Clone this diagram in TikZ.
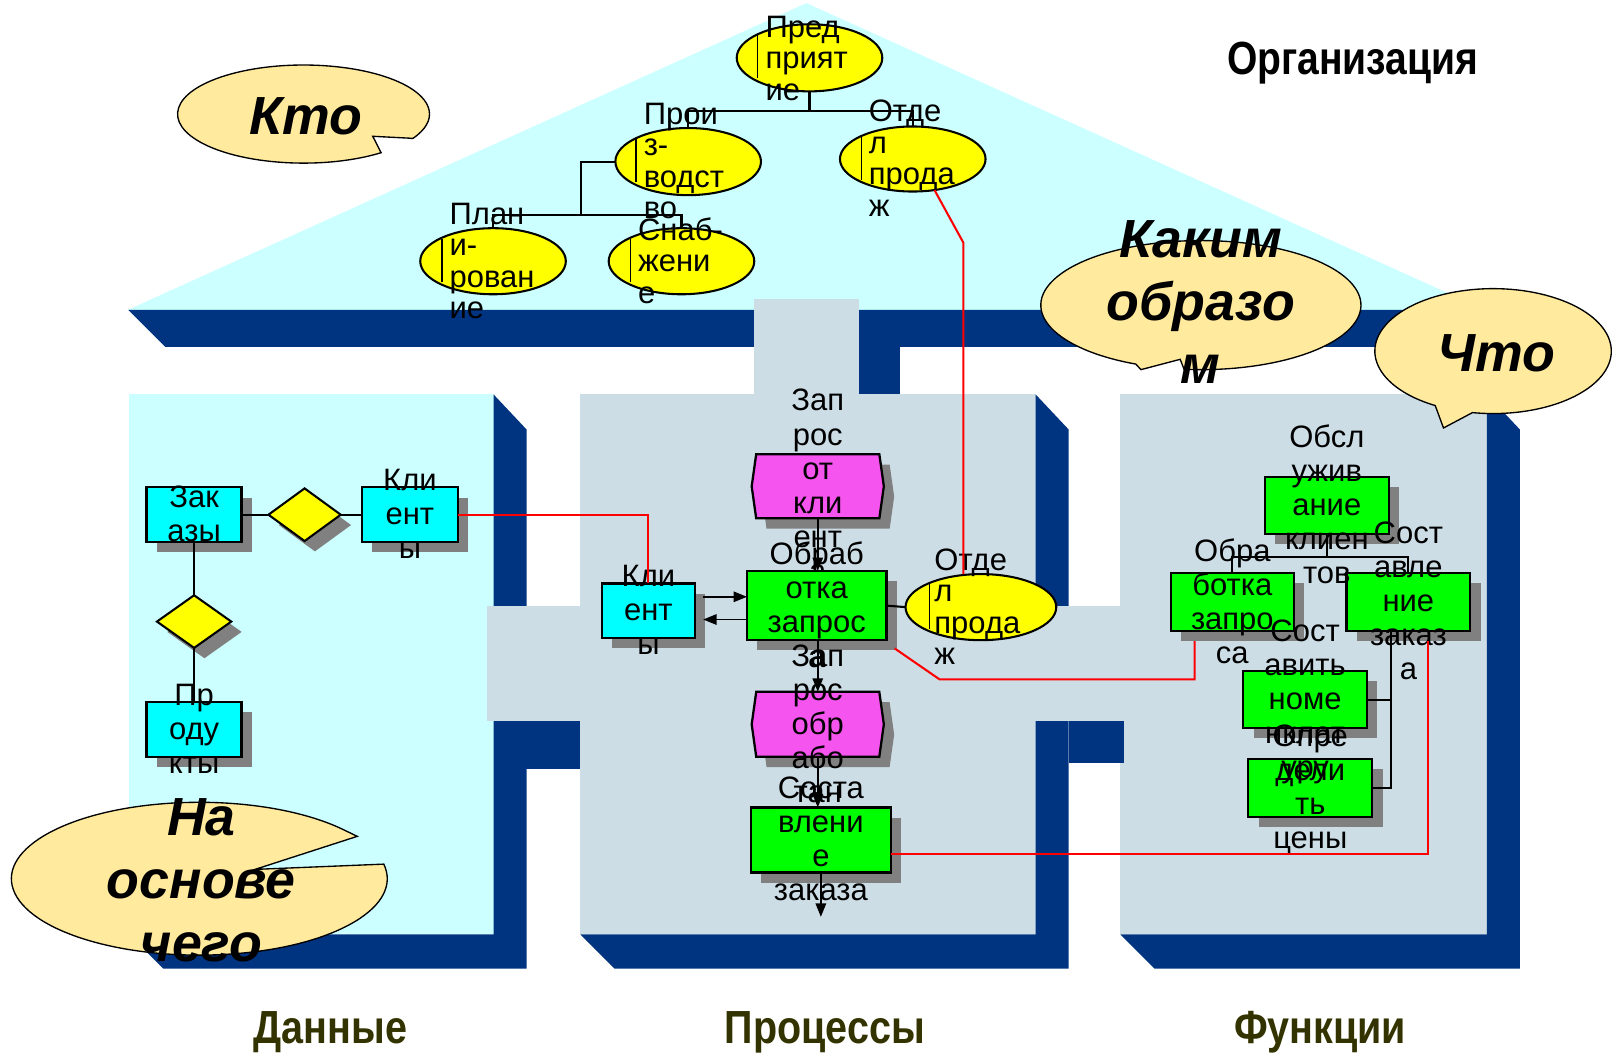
\documentclass[tikz,border=0pt]{standalone}
\usepackage{fontspec}
\usepackage{graphicx}
\setmainfont{Liberation Sans}
\usetikzlibrary{arrows.meta,shapes.geometric,shapes.symbols,shadows}

\definecolor{roofcyan}{HTML}{CCFFFF}
\definecolor{wallgray}{HTML}{CCDDE6}
\definecolor{housenavy}{HTML}{003380}
\definecolor{bubblefill}{HTML}{FFEA9E}
\definecolor{entcyan}{HTML}{00FFFF}
\definecolor{fungreen}{HTML}{00FF00}
\definecolor{evtmagenta}{HTML}{F555EE}
\definecolor{shadegray}{HTML}{808080}
\definecolor{olivetext}{HTML}{333300}
\definecolor{orgyellow}{HTML}{FFFF00}

\begin{document}
\begin{tikzpicture}[x=1pt,y=-1pt,
  every node/.style={inner sep=0pt, outer sep=0pt},
  boxshadow/.style={general shadow={fill=shadegray, shadow xshift=10pt, shadow yshift=-10pt}},
  entbox/.style={rectangle, draw, line width=2.2pt, fill=entcyan, boxshadow, minimum width=92, minimum height=53},
  relbox/.style={diamond, draw, line width=2pt, fill=orgyellow, boxshadow, minimum width=70, minimum height=51},
  funbox/.style={rectangle, draw, line width=2.2pt, fill=fungreen, boxshadow},
  evtbox/.style={signal, signal to=west and east, signal pointer angle=164, draw, line width=2.2pt,
                 fill=evtmagenta, boxshadow, minimum width=128, minimum height=62},
  orgell/.style={ellipse, draw, line width=2pt, fill=orgyellow, minimum width=141, minimum height=65},
  lbl/.style={align=center, yshift=-4pt, font=\fontsize{30}{33}\selectfont,
              execute at begin node=\strut, execute at end node=\strut},
  orglbl/.style={align=left, anchor=west, yshift=-4pt, font=\fontsize{30}{30.5}\selectfont,
                 execute at begin node=\strut, execute at end node=\strut},
  cursor/.style={line width=1.3pt},
  conn/.style={line width=2pt},
  arr/.style={line width=1.8pt, -{Triangle[length=13pt,width=10pt]}},
  redline/.style={draw=red, line width=2pt},
  bubble/.style={fill=bubblefill, draw=black, line width=1.3pt},
  bubtxt/.style={align=center, yshift=-3pt, font=\fontsize{52}{61}\selectfont\bfseries\itshape,
                 execute at begin node=\strut, execute at end node=\strut},
  bubword/.style={anchor=base, font=\fontsize{52}{61}\selectfont\bfseries\itshape},
  headline/.style={anchor=base, font=\fontsize{45}{50}\selectfont\bfseries},
  section/.style={headline, text=olivetext}
]
\useasboundingbox (0,0) rectangle (1568,1022);
\fill[white] (0,0) rectangle (1568,1022);

% ---------- roof ----------
\fill[roofcyan] (124,300) -- (781,3) -- (1438,300) -- cycle;
\fill[housenavy] (124,300) -- (1438,300) -- (1438,336) -- (160,336) -- cycle;
% passage from the roof down to the process wall
\fill[wallgray] (730,290) rectangle (832,382);
\fill[housenavy] (832,336) rectangle (872,382);

% ---------- walls ----------
\fill[roofcyan] (125,382) rectangle (478,905);
\fill[housenavy] (125,905) -- (478,905) -- (478,382) -- (510,416) -- (510,938) -- (158,938) -- cycle;
\fill[wallgray] (562,382) rectangle (1003,905);
\fill[housenavy] (562,905) -- (1003,905) -- (1003,382) -- (1035,416) -- (1035,938) -- (595,938) -- cycle;
\fill[wallgray] (1085,382) rectangle (1440,905);
\fill[housenavy] (1085,905) -- (1440,905) -- (1440,382) -- (1472,416) -- (1472,938) -- (1118,938) -- cycle;
% horizontal passages
\fill[wallgray] (472,587) rectangle (562.5,698);
\fill[housenavy] (478,698) rectangle (562,745);
\fill[wallgray] (1002.5,587) rectangle (1085.5,698);
\fill[housenavy] (1035,698) rectangle (1089,739);

% ---------- organisation chart ----------
\node[orgell] (pp) at (784,56) {};
\node[orglbl] (pp-t) at (741.5,57) {Пред\\прият\\ие};
\draw[cursor] ([shift={(20,-22)}]pp.west) -- ([shift={(20,20)}]pp.west);

\node[orgell] (prv) at (666.5,156.5) {};
\node[orglbl] (prv-t) at (623.5,156.5) {Прои\\з-\\водст\\во};
\draw[cursor] ([shift={(20,-22)}]prv.west) -- ([shift={(20,20)}]prv.west);

\node[orgell, minimum height=63] (otd) at (884,154) {};
\node[orglbl] (otd-t) at (841.5,154) {Отде\\л\\прода\\ж};
\draw[cursor] ([shift={(21,-22)}]otd.west) -- ([shift={(21,20)}]otd.west);

\node[orgell, minimum height=64] (pl) at (477.5,253) {};
\node[orglbl] (pl-t) at (435.5,253) {План\\и-\\рован\\ие};
\draw[cursor] ([shift={(21,-22)}]pl.west) -- ([shift={(21,20)}]pl.west);

\node[orgell, minimum height=64] (snb) at (660,253) {};
\node[orglbl] (snb-t) at (618,253) {Снаб-\\жени\\е};
\draw[cursor] ([shift={(21,-22)}]snb.west) -- ([shift={(21,20)}]snb.west);

\draw[conn] (pp.south) -- ++(0,19) coordinate (orgj1);
\draw[conn] (prv.north) |- (orgj1) -| (otd.north);
\coordinate (orgj2) at (563,208);
\draw[conn] (prv.west) -| (orgj2);
\draw[conn] (pl.north) |- (orgj2);
\draw[conn] (snb.north) |- (orgj2);

% ---------- data view ----------
\node[entbox] (zak) at (188,498.5) {};
\node[lbl] (zak-t) at (zak) {Зак\\азы};
\node[relbox] (d1) at (295,498.5) {};
\node[entbox, minimum width=93] (kl) at (397,498.5) {};
\node[lbl] (kl-t) at (kl) {Кли\\ент\\ы};
\node[relbox, minimum width=72] (d2) at (188,602) {};
\node[entbox] (prd) at (188,706.5) {};
\node[lbl] (prd-t) at (prd) {Пр\\оду\\кты};
\draw[conn] (zak.east) -- (d1.west);
\draw[conn] (d1.east) -- (kl.west);
\draw[conn] (zak.south) -- (d2.north);
\draw[conn] (d2.south) -- (prd.north);

% ---------- process view ----------
\node[evtbox] (ev1) at (792,471) {};
\node[lbl] (ev1-t) at (ev1) {Зап\\рос\\от\\кли\\ент\\а};
\node[entbox, minimum width=90] (klm) at (628,591.5) {};
\node[lbl] (klm-t) at (klm) {Кли\\ент\\ы};
\node[funbox, minimum width=135, minimum height=67] (obr) at (791,586.5) {};
\node[lbl] (obr-t) at (obr) {Обраб\\отка\\запрос\\а};
\node[orgell, minimum width=146, minimum height=64] (otm) at (950,588) {};
\node[orglbl] (otm-t) at (905,588) {Отде\\л\\прода\\ж};
\draw[cursor] ([shift={(23,-22)}]otm.west) -- ([shift={(23,21)}]otm.west);
\node[evtbox, minimum height=63] (ev2) at (792,701.5) {};
\node[lbl] (ev2-t) at (ev2) {Зап\\рос\\обр\\або\\тан};
\node[funbox, minimum width=136, minimum height=63] (sost) at (795,813.5) {};
\node[lbl] (sost-t) at (sost) {Соста\\влени\\е\\заказа};

\draw[arr] (ev1.south) -- (ev1.south |- obr.north);
\draw[arr] (ev2.north |- obr.south) -- (ev2.north);
\draw[arr] (ev2.south) -- (ev2.south |- sost.north);
\coordinate (sostout) at ([yshift=-43pt]sost.south);
\draw[arr] (sost.south) -- (sostout);
\coordinate (kmA) at ([shift={(8,-13.5)}]klm.east);
\draw[arr] (kmA) -- (kmA -| obr.west);
\coordinate (kmB) at ([yshift=-13.5pt]obr.west);
\draw[arr] (kmB) -- (kmB -| kmA);
\draw[conn] (obr.east) -- (otm.west);

% ---------- function view ----------
\node[funbox, minimum width=120, minimum height=55] (obs) at (1285,489.5) {};
\node[funbox, minimum width=119, minimum height=56] (obrR) at (1193.5,583) {};
\node[funbox, minimum width=120, minimum height=56] (sostR) at (1364,583) {};
\node[funbox, minimum width=120, minimum height=55] (nom) at (1264,677.5) {};
\node[funbox, minimum width=120, minimum height=56] (opr) at (1269,763) {};
\node[lbl] (obs-t) at (obs) {Обсл\\ужив\\ание\\клиен\\тов};
\node[lbl] (obrR-t) at (obrR) {Обра\\ботка\\запро\\са};
\node[lbl] (sostR-t) at (sostR) {Сост\\авле\\ние\\заказ\\а};
\node[lbl] (nom-t) at (nom) {Сост\\авить\\номе\\нклат\\уру};
\node[lbl] (opr-t) at (opr) {Опре\\дели\\ть\\цены};

\coordinate (fj) at (1285,539);
\draw[conn] (obs.south) -- (fj);
\draw[conn] (obrR.north) |- (fj);
\draw[conn] (sostR.north) |- (fj);
\coordinate (sj) at ([xshift=-17pt]sostR.south);
\draw[conn] (sj) |- (nom.east);
\draw[conn] (sj) |- (opr.east);

% ---------- links between the views ----------
\draw[redline] (kl.east) -| (klm.north);
\coordinate (rk1) at (933,235);
\draw[redline] (otd.-55) -- (rk1) -- (rk1 |- otm.north);
\coordinate (rk2) at ([shift={(8,8)}]obr.south east);
\coordinate (rk3) at (910,658);
\coordinate (rk4) at (1157,621);
\draw[redline] (rk2) -- (rk3) -| (rk4);
\coordinate (rk5) at (1383,621);
\draw[redline] ([yshift=-13.5pt]sost.east) -| (rk5);

% ---------- question bubbles ----------
\path[bubble] (400,134) -- (361,132) -- (369.1,147.9)
  arc[start angle=52, end angle=389.7, x radius=122, y radius=47.5] -- cycle;
\node[bubword] (who-t) at (296,130) {Кто};

\path[bubble] (1146.8,357.7) -- (1143,348) -- (1105,358) -- (1100,352.6)
  arc[start angle=114, end angle=456, x radius=155, y radius=62.5] -- cycle;
\node[bubtxt] (how-t) at (1163,298.8) {Каким\\образо\\м};

\path[bubble] (1426.1,399.6) -- (1398,414.5) -- (1390,392.8)
  arc[start angle=119.3, end angle=460, x radius=114.5, y radius=60.5] -- cycle;
\node[bubword] (what-t) at (1449,360) {Что};

\path[bubble] (371.7,836.9)
  arc[start angle=-11, end angle=320, x radius=182, y radius=74] -- (346,810) -- (247,842) -- cycle;
\node[bubtxt] (basis-t) at (195,858.8) {На\\основе\\чего};

% ---------- headings ----------
\node[headline] (org-t) at (1310,72) {\scalebox{0.84}[1]{Организация}};
\node[section] (data-t) at (320,1011) {\scalebox{0.85}[1]{Данные}};
\node[section] (proc-t) at (799,1011) {\scalebox{0.85}[1]{Процессы}};
\node[section] (func-t) at (1278.5,1011) {\scalebox{0.85}[1]{Функции}};
\end{tikzpicture}
\end{document}
